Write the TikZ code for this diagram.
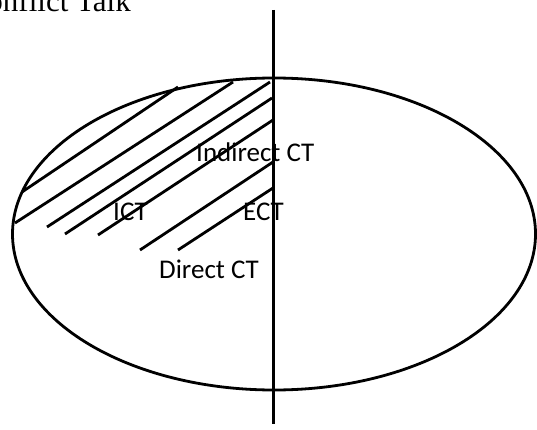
\documentclass[tikz,border=0pt]{standalone}
\usepackage{fontspec}
\setmainfont{Liberation Serif}
\newfontfamily\labelfont{Carlito}
\begin{document}
\begin{tikzpicture}[x=1pt,y=-1pt,
  stroke/.style={line width=2.8pt,black},
  lbl/.style={font=\labelfont\fontsize{27}{30}\selectfont,inner sep=0pt,anchor=base west}]
\useasboundingbox (0,0) rectangle (537,430);
% title (partly cut off at the top)
\node[font=\fontsize{31}{34}\selectfont,inner sep=0pt,anchor=base east] (title) at (131,12) {Conflict Talk};
% ellipse and vertical axis
\draw[stroke] (274,234) ellipse [x radius=261.5pt, y radius=156pt];
\coordinate (axtop) at (273.5,10);
\coordinate (axbot) at (273.5,424);
\draw[stroke] (axtop) -- (axbot);
% hatching
\draw[stroke] (22,192) -- (178,87);
\draw[stroke] (15,223) -- (233,82);
\draw[stroke] (47,227) -- (270,82);
\draw[stroke] (65,234) -- (272,98);
\draw[stroke] (98,235) -- (273,120);
\draw[stroke] (140,250) -- (273,162);
\draw[stroke] (178,250) -- (273,188);
% labels
\node[lbl] (indirect) at (196,161.5) {Indirect CT};
\node[lbl] (ict) at (113,220) {ICT};
\node[lbl] (ect) at (243,220) {ECT};
\node[lbl] (direct) at (159,278) {Direct CT};
\end{tikzpicture}
\end{document}
